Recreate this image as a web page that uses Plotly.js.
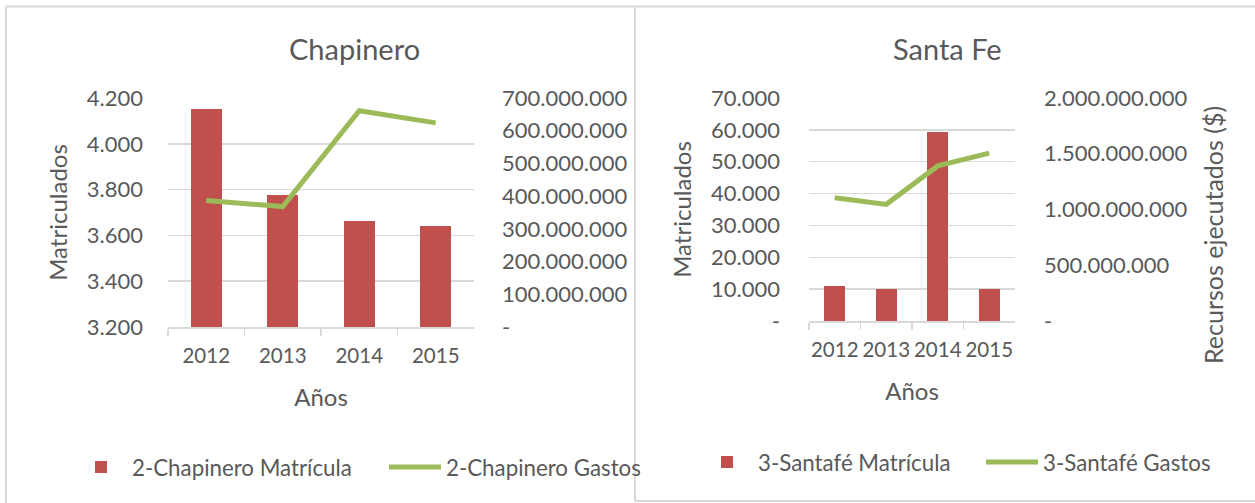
<!DOCTYPE html>
<html>
<head>
<meta charset="utf-8">
<script src="https://cdn.plot.ly/plotly-3.0.1.min.js"></script>
<style>html,body{margin:0;padding:0;background:#fff;}#chart{width:1255px;height:503px;}</style>
</head>
<body>
<div id="chart"></div>
<script>
// ---- Data ----
var years = ["2012", "2013", "2014", "2015"];

var chapineroMatricula = [4150, 3776, 3665, 3642];
var chapineroGastos = [387000000, 368000000, 661000000, 624000000];

var santafeMatricula = [11000, 9900, 59200, 10000];
var santafeGastos = [1106000000, 1046000000, 1391000000, 1505000000];

var chapLeftTickVals = [3200, 3400, 3600, 3800, 4000, 4200];
var chapLeftTickText = ["3.200", "3.400", "3.600", "3.800", "4.000", "4.200"];
var chapRightTickVals = [0, 100000000, 200000000, 300000000, 400000000, 500000000, 600000000, 700000000];
var chapRightTickText = ["-", "100.000.000", "200.000.000", "300.000.000", "400.000.000", "500.000.000", "600.000.000", "700.000.000"];

var sfLeftTickVals = [0, 10000, 20000, 30000, 40000, 50000, 60000, 70000];
var sfLeftTickText = ["-", "10.000", "20.000", "30.000", "40.000", "50.000", "60.000", "70.000"];
var sfRightTickVals = [0, 500000000, 1000000000, 1500000000, 2000000000];
var sfRightTickText = ["-", "500.000.000", "1.000.000.000", "1.500.000.000", "2.000.000.000"];

// ---- Styles ----
var RED = "#C0504D", GREEN = "#9BBB59", GRID = "#D9D9D9", TXT = "#595959";
var FONT = "Lato, 'Open Sans', sans-serif";
var W = 1255, H = 503;
function px(x){ return x / W; }
function py(y){ return 1 - y / H; }

var traces = [
  { type: "bar", x: years, y: chapineroMatricula, name: "2-Chapinero Matrícula",
    marker: { color: RED }, width: 0.4, xaxis: "x", yaxis: "y", legend: "legend", hoverinfo: "skip" },
  { type: "scatter", mode: "lines", x: years, y: chapineroGastos, name: "2-Chapinero Gastos",
    line: { color: GREEN, width: 5 }, xaxis: "x", yaxis: "y2", legend: "legend", hoverinfo: "skip" },
  { type: "bar", x: years, y: santafeMatricula, name: "3-Santafé Matrícula",
    marker: { color: RED }, width: 0.4, xaxis: "x2", yaxis: "y3", legend: "legend2", hoverinfo: "skip" },
  { type: "scatter", mode: "lines", x: years, y: santafeGastos, name: "3-Santafé Gastos",
    line: { color: GREEN, width: 5 }, xaxis: "x2", yaxis: "y4", legend: "legend2", hoverinfo: "skip" }
];

var tickFont = { family: FONT, size: 22, color: TXT };
var xTickFont = { family: FONT, size: 20.5, color: TXT };
var titleFont = { family: FONT, size: 24, color: TXT };
var legFont = { family: FONT, size: 22.3, color: TXT };

function xAxis(domain, anchor){
  return {
    domain: domain, anchor: anchor, type: "category", automargin: false,
    showline: true, linecolor: GRID, linewidth: 1.5, tickangle: 0,
    ticks: "outside", tickson: "boundaries", ticklen: 7, tickcolor: GRID, tickwidth: 1.5,
    ticklabelstandoff: 10, tickfont: xTickFont, showgrid: false, zeroline: false,
    title: { text: "Años", font: titleFont, standoff: 23 }
  };
}

var layout = {
  width: W, height: H, autosize: false,
  margin: { l: 0, r: 0, t: 0, b: 0, autoexpand: false },
  paper_bgcolor: "#fff", plot_bgcolor: "rgba(0,0,0,0)",
  font: { family: FONT, color: TXT },
  separators: ",.",
  showlegend: true,
  bargap: 0,
  xaxis: xAxis([px(168), px(474)], "y"),
  yaxis: {
    domain: [py(327), py(98)], range: [3200, 4200], automargin: false,
    tickvals: chapLeftTickVals, ticktext: chapLeftTickText,
    showgrid: true, gridcolor: GRID, gridwidth: 1.5, zeroline: false, showline: false,
    ticks: "", ticklabelstandoff: 24, tickfont: tickFont,
    title: { text: "Matriculados", font: titleFont, standoff: 12 }
  },
  yaxis2: {
    overlaying: "y", side: "right", anchor: "x", range: [0, 700000000], automargin: false,
    tickvals: chapRightTickVals, ticktext: chapRightTickText,
    showgrid: false, zeroline: false, showline: false,
    ticks: "", ticklabelstandoff: 27, tickfont: tickFont
  },
  xaxis2: xAxis([px(809), px(1015)], "y3"),
  yaxis3: {
    domain: [py(321), py(98)], range: [0, 70000], anchor: "x2", automargin: false,
    tickvals: sfLeftTickVals, ticktext: sfLeftTickText,
    showgrid: true, gridcolor: GRID, gridwidth: 1.5, zeroline: false, showline: false,
    ticks: "", ticklabelstandoff: 28, tickfont: tickFont,
    title: { text: "Matriculados", font: titleFont, standoff: 12 }
  },
  yaxis4: {
    overlaying: "y3", side: "right", anchor: "x2", range: [0, 2000000000], automargin: false,
    tickvals: sfRightTickVals, ticktext: sfRightTickText,
    showgrid: false, zeroline: false, showline: false,
    ticks: "", ticklabelstandoff: 28, tickfont: tickFont
  },
  legend: {
    orientation: "h", xref: "container", yref: "container",
    x: px(70), y: py(467), xanchor: "left", yanchor: "middle",
    font: legFont, itemwidth: 52,
    entrywidth: 247, entrywidthmode: "pixels", bgcolor: "rgba(0,0,0,0)", traceorder: "normal"
  },
  legend2: {
    orientation: "h", xref: "container", yref: "container",
    x: px(696), y: py(462), xanchor: "left", yanchor: "middle",
    font: legFont, itemwidth: 52,
    entrywidth: 218, entrywidthmode: "pixels", bgcolor: "rgba(0,0,0,0)", traceorder: "normal"
  },
  annotations: [
    { text: "Chapinero", xref: "paper", yref: "paper", x: px(354), y: py(48),
      xanchor: "center", yanchor: "middle", showarrow: false,
      font: { family: FONT, size: 29, color: TXT } },
    { text: "Santa Fe", xref: "paper", yref: "paper", x: px(948), y: py(48),
      xanchor: "center", yanchor: "middle", showarrow: false,
      font: { family: FONT, size: 29, color: TXT } },
    { text: "Recursos ejecutados ($)", xref: "paper", yref: "paper", x: px(1213), y: py(235),
      xanchor: "center", yanchor: "middle", showarrow: false, textangle: -90,
      font: { family: FONT, size: 25, color: TXT } }
  ],
  shapes: [
    { type: "line", xref: "paper", yref: "paper", x0: px(6), x1: 1, y0: py(6.5), y1: py(6.5), line: { color: GRID, width: 2 } },
    { type: "line", xref: "paper", yref: "paper", x0: px(6), x1: px(6), y0: py(6.5), y1: 0, line: { color: GRID, width: 2 } },
    { type: "line", xref: "paper", yref: "paper", x0: px(635), x1: px(635), y0: py(6.5), y1: py(501), line: { color: GRID, width: 2 } },
    { type: "line", xref: "paper", yref: "paper", x0: px(635), x1: 1, y0: py(501), y1: py(501), line: { color: GRID, width: 2 } }
  ]
};

Plotly.newPlot("chart", traces, layout, { staticPlot: true, displayModeBar: false });
</script>
</body>
</html>
